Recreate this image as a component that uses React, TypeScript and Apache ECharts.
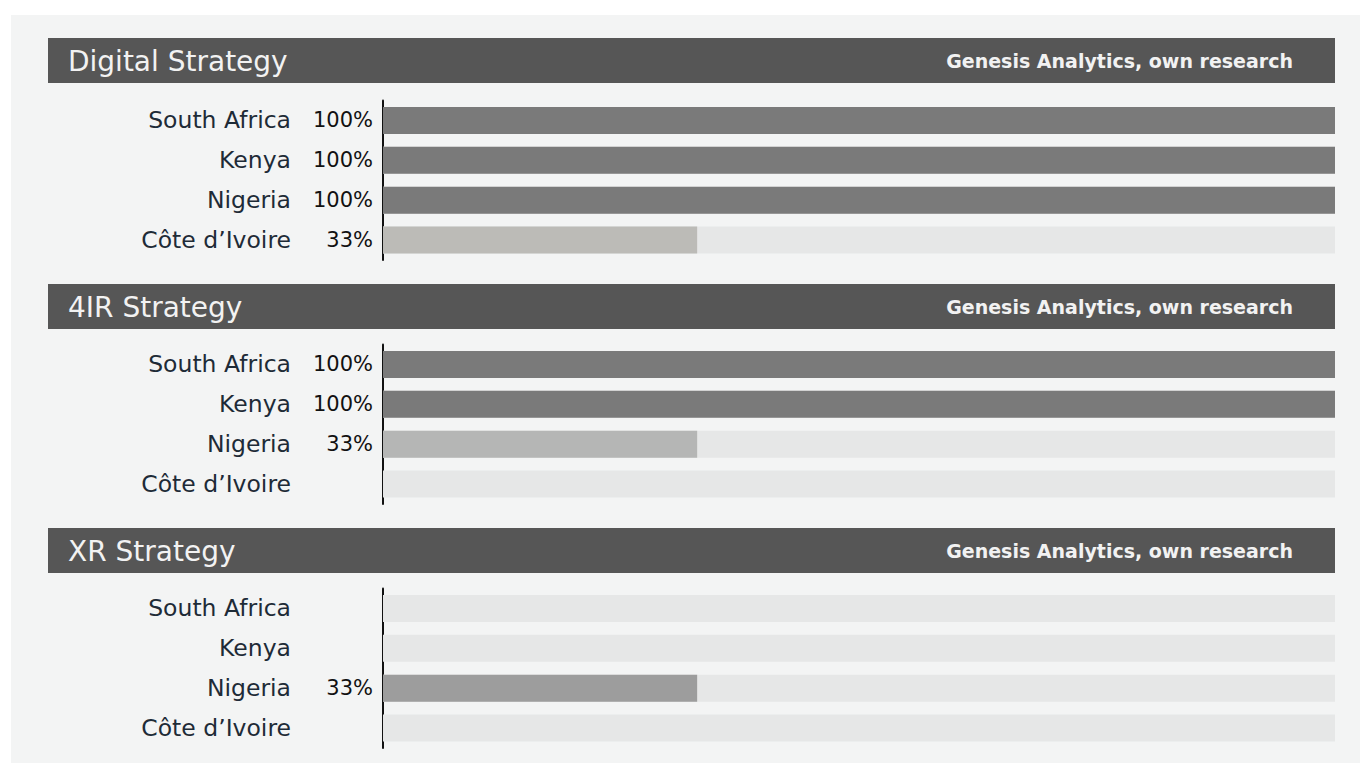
import React, { useEffect, useRef } from "react";
import * as echarts from "echarts";

const categories = ["South Africa", "Kenya", "Nigeria", "Côte d’Ivoire"];
const digitalValues: (number | null)[] = [100, 100, 100, 33];
const fourIRValues: (number | null)[] = [100, 100, 33, null];
const xrValues: (number | null)[] = [null, null, 33, null];
const panelTitles = ["Digital Strategy", "4IR Strategy", "XR Strategy"];
const sourceText = "Genesis Analytics, own research";

const panels = [
  { values: digitalValues, partial: "#bcbbb7", headerTop: 38, gridTop: 100.5 },
  { values: fourIRValues, partial: "#b5b6b5", headerTop: 284, gridTop: 344.5 },
  { values: xrValues, partial: "#9d9d9d", headerTop: 528, gridTop: 588.5 },
];

const FONT = "'DejaVu Sans', 'Noto Sans', sans-serif";
const FULL = "#7a7a7a";

export default function App() {
  const ref = useRef<HTMLDivElement>(null);
  useEffect(() => {
    if (!ref.current) return;
    const chart = echarts.init(ref.current, undefined, { renderer: "svg" });
    const grids: any[] = [];
    const xAxes: any[] = [];
    const yAxes: any[] = [];
    const series: any[] = [];
    const graphics: any[] = [
      { type: "rect", shape: { x: 11, y: 15, width: 1349, height: 748 }, style: { fill: "#f3f4f4" }, z: -10 },
    ];
    panels.forEach((p, i) => {
      grids.push({ left: 383, right: 25, top: p.gridTop, height: 159.5 });
      xAxes.push({ type: "value", gridIndex: i, min: 0, max: 100, show: false });
      yAxes.push({
        type: "category",
        gridIndex: i,
        data: categories,
        inverse: true,
        axisTick: { show: false },
        axisLine: { show: true, lineStyle: { color: "#111", width: 2 } },
        axisLabel: { margin: 92, color: "#1e2b37", fontSize: 23.5, fontFamily: FONT, padding: [3, 0, 0, 0] },
        splitLine: { show: false },
      });
      series.push({
        type: "bar",
        xAxisIndex: i,
        yAxisIndex: i,
        data: p.values.map((v) => (v === null ? "-" : v)),
        barWidth: 27,
        showBackground: true,
        backgroundStyle: { color: "#e6e7e7" },
        itemStyle: { color: (d: any) => (d.value >= 100 ? FULL : p.partial) },
        label: {
          show: true,
          position: "left",
          distance: 10,
          formatter: "{c}%",
          color: "#111",
          fontSize: 21,
          fontFamily: FONT,
          padding: [2, 0, 0, 0],
        },
      });
      graphics.push({
        type: "rect",
        shape: { x: 48, y: p.headerTop, width: 1287, height: 45 },
        style: { fill: "#565656" },
      });
      graphics.push({
        type: "text",
        x: 68,
        y: p.headerTop + 23,
        style: {
          text: panelTitles[i],
          fill: "#f2f2f2",
          fontSize: 28,
          fontFamily: FONT,
          verticalAlign: "middle",
          textAlign: "left",
        },
      });
      graphics.push({
        type: "text",
        x: 1293,
        y: p.headerTop + 23,
        style: {
          text: sourceText,
          fill: "#f2f2f2",
          fontSize: 19,
          fontWeight: "bold",
          fontFamily: FONT,
          verticalAlign: "middle",
          textAlign: "right",
        },
      });
    });
    chart.setOption({
      animation: false,
      backgroundColor: "#ffffff",
      grid: grids,
      xAxis: xAxes,
      yAxis: yAxes,
      series,
      graphic: graphics,
    });
    return () => chart.dispose();
  }, []);
  return (
    <div
      ref={ref}
      style={{ position: "fixed", left: 0, top: 0, width: 1360, height: 763 }}
    />
  );
}
